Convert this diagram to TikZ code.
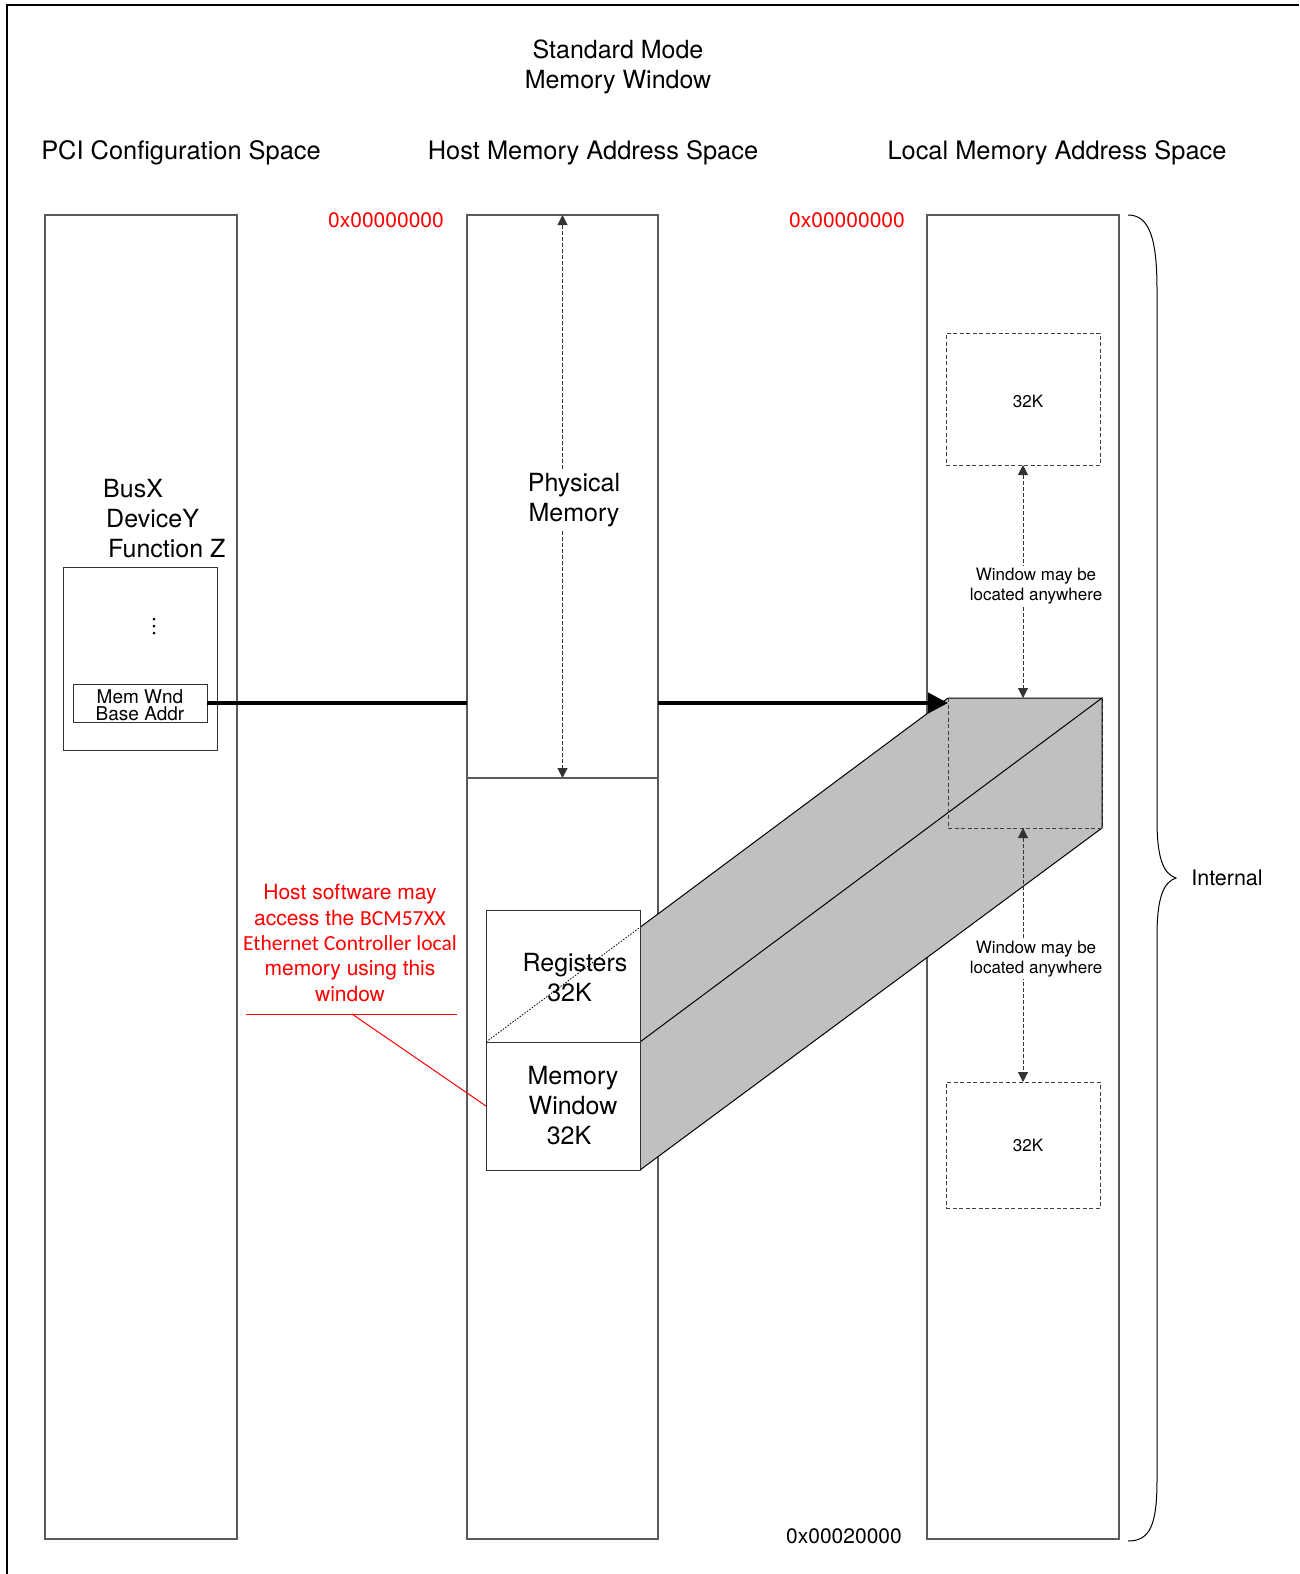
\documentclass[tikz,border=0pt]{standalone}
\usepackage{fontspec}
\setmainfont{TeX Gyre Heros}
\newfontfamily\carl{Carlito}
\usetikzlibrary{arrows.meta,calc}
\newcommand{\fsz}[2]{\fontsize{#1}{#2}\selectfont}
\definecolor{prismgray}{RGB}{192,192,192}
\definecolor{edgegray}{RGB}{90,90,90}
\begin{document}
\begin{tikzpicture}[x=1pt,y=-1pt,
  colbox/.style={draw=edgegray, line width=1.3pt, fill=white, minimum width=192pt,
     minimum height=1324pt, anchor=north west, inner sep=0pt, outer sep=0pt},
  plainbox/.style={draw=black!80, line width=1pt, fill=white, anchor=north west, inner sep=0pt, outer sep=0pt},
  winbox/.style={draw=black!75, line width=1pt, dash pattern=on 4pt off 2.5pt, anchor=north west, inner sep=0pt, outer sep=0pt},
  big/.style={font=\fsz{25}{30}, align=center, inner sep=0pt},
  head/.style={font=\fsz{25.4}{30}, align=center, inner sep=0pt},
  mid/.style={font=\fsz{21}{25}, align=center, inner sep=0pt},
  small/.style={font=\fsz{17}{20}, align=center, inner sep=0pt},
  dasharrow/.style={draw=black!80, line width=1pt, dash pattern=on 4pt off 2pt,
     {Triangle[length=10pt,width=10pt]}-{Triangle[length=10pt,width=10pt]}},
  thickline/.style={line width=4pt},
  thickarrow/.style={line width=4pt, -{Triangle[length=20pt,width=20pt]}},
  lbl/.style={fill=white, inner sep=2pt}
]
\useasboundingbox (0,0) rectangle (1299,1574);
% outer frame
\draw[line width=2pt] (7,1574) -- (7,5) -- (1299,5);

% titles
\node[big] (title) at (618,67) {Standard Mode\\Memory Window};
\node[head] (hpci) at (181,153) {PCI Configuration Space};
\node[head] (hhost) at (593,153) {Host Memory Address Space};
\node[head] (hlocal) at (1057,153) {Local Memory Address Space};

% columns
\node[colbox] (pci) at (45,215) {};
\node[colbox, minimum width=191pt] (host) at (467,215) {};
\node[colbox] (local) at (927,215) {};

% addresses
\node[mid, text=red] (a0h) at (386,220) {0x00000000};
\node[mid, text=red] (a0l) at (847,220) {0x00000000};
\node[mid] (aend) at (844,1536) {0x00020000};

% PCI column contents
\node[big, anchor=west] (busx) at (103,489) {BusX};
\node[big, anchor=west] (devy) at (106,519) {DeviceY};
\node[big, anchor=west] (func) at (108,549) {Function Z};
\node[plainbox, minimum width=154pt, minimum height=183pt] (pcibox) at (63,567) {};
\fill (154,619) circle (1.5pt) (154,626) circle (1.5pt) (154,633) circle (1.5pt);
\node[plainbox, minimum width=134pt, minimum height=38pt] (memwnd) at (73,684) {};
\node[font=\fsz{19}{16.5}, align=center, inner sep=0pt] (memwndtxt) at (140,705) {Mem Wnd\\Base Addr};

% host column contents
\coordinate (hs) at (0,778);
\draw[draw=edgegray, line width=1.3pt] (host.west |- hs) -- (host.east |- hs);
\draw[dasharrow] (host.north) -- (host.north |- hs);
\node[big, lbl] (phys) at (574,500) {Physical\\Memory};

% red annotation
\node[font=\fsz{21}{25.3}, align=center, inner sep=0pt, text=red] (hostsw) at (350,943)
  {Host software may\\access the {\carl\fsz{21.5}{25.3}BCM57XX}\\{\carl\fsz{21.5}{25.3}Ethernet Controller local}\\memory using this\\window};
\coordinate (ulA) at (246,1014);
\coordinate (ulB) at (457,1014);
\coordinate (ulM) at (352,1014);
\draw[red, line width=1pt] (ulA) -- (ulB);

% 3D window
\node[plainbox, minimum width=154pt, minimum height=132pt] (regs) at (486,910) {};
\node[plainbox, minimum width=154pt, minimum height=128pt] (mem) at (486,1042) {};
\node[winbox, minimum width=154pt, minimum height=130pt] (wmid) at (948,698) {};
\fill[prismgray] (regs.south west) -- (wmid.north west) -- (wmid.north east) -- (wmid.south east) -- (mem.south east) -- (mem.north east) -- cycle;
\draw[line width=1pt] ($(regs.south west)!0.3333!(wmid.north west)$) -- (wmid.north west) -- (wmid.north east) -- (wmid.south east) -- (mem.south east);
\draw[line width=1pt] (mem.north east) -- (wmid.north east);
\node[plainbox, minimum width=154pt, minimum height=132pt] (regs2) at (486,910) {};
\node[plainbox, minimum width=154pt, minimum height=128pt] (mem2) at (486,1042) {};
\draw[line width=0.8pt, dash pattern=on 1.5pt off 1.5pt] (regs2.south west) -- ($(regs2.south west)!0.3333!(wmid.north west)$);
\draw[winbox] (wmid.north west) |- (wmid.south east);
\node[big] (regtxt) at (575,978) {Registers\\32K\kern11pt};
\node[big] (memtxt) at (573,1106) {Memory\\Window\\32K\kern8pt};
\draw[red, line width=1pt] (ulM) -- (mem2.west);

% local column contents
\node[winbox, minimum width=154pt, minimum height=132pt] (wtop) at (946,333) {};
\node[winbox, minimum width=154pt, minimum height=126pt] (wbot) at (946,1082) {};
\node[small] (k1) at (1028,401) {32K};
\node[small] (k2) at (1028,1145) {32K};
\draw[dasharrow] (wtop.south) -- (wtop.south |- wmid.north);
\draw[dasharrow] (wbot.north |- wmid.south) -- (wbot.north);
\node[small, lbl] (wl1) at (1036,586) {Window may be\\located anywhere};
\node[small, lbl] (wl2) at (1036,959) {Window may be\\located anywhere};

% thick connectors
\draw[thickline] (memwnd.east) -- (memwnd.east -| host.west);
\draw[thickarrow] (memwnd.east -| host.east) -- (memwnd.east -| wmid.west);

% brace
\draw[line width=1pt] (1128,215) .. controls (1150,215) and (1157,240) .. (1157,290)
  -- (1157,820) .. controls (1157,860) and (1164,874) .. (1176,878)
  .. controls (1164,882) and (1157,896) .. (1157,936)
  -- (1157,1480) .. controls (1157,1525) and (1150,1541) .. (1128,1541);
\node[font=\fsz{21.5}{25}, inner sep=0pt] (internal) at (1227,878) {Internal};
\end{tikzpicture}
\end{document}
